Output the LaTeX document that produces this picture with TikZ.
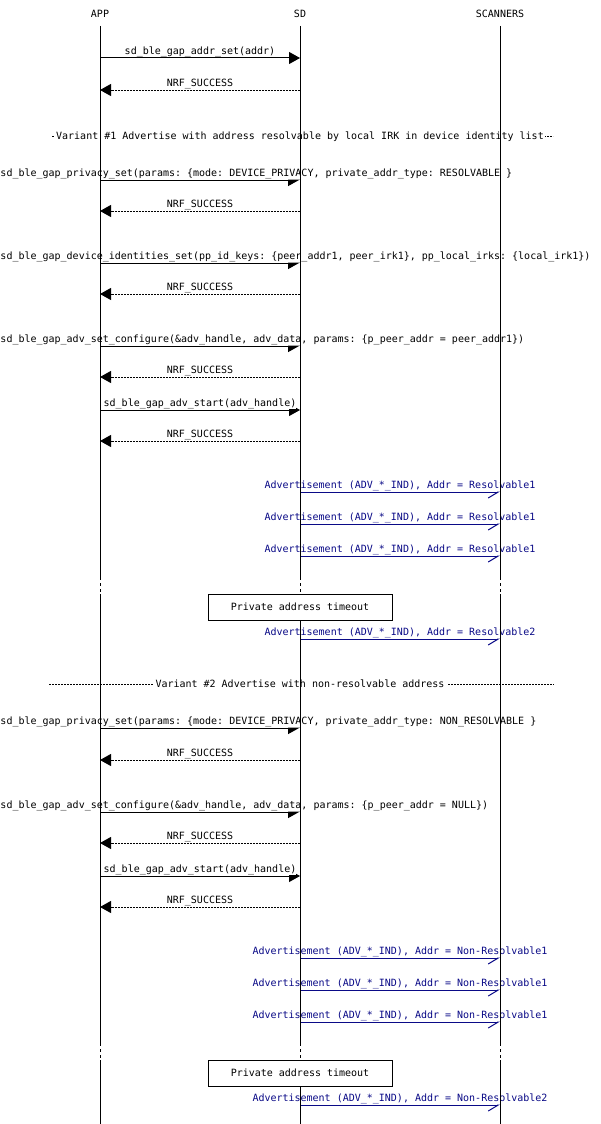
\documentclass[tikz,border=0pt]{standalone}
\usepackage{fontspec}
\setmonofont{DejaVu Sans Mono}
\usetikzlibrary{arrows.meta}
\definecolor{advblue}{RGB}{10,10,135}
\tikzstyle{msg} = [font=\ttfamily\fontsize{10}{12}\selectfont]
\tikzstyle{lbl} = [msg,fill=white,inner xsep=0pt,inner ysep=0pt,text depth=2pt,anchor=south]

\begin{document}
\begin{tikzpicture}[x=1pt,y=-1pt,line width=1pt,
			call/.style={-{Triangle[length=11pt,width=12pt]}},
			wide/.style={-{Triangle[right,length=11pt,width=12pt]}},
			reply/.style={-{Triangle[length=11pt,width=12pt]},dash pattern=on 2pt off 1pt},
			adv/.style={advblue,-{Straight Barb[right,length=10pt,width=12pt]}},
			gap/.style={dash pattern=on 2.5pt off 3.5pt},
			divider/.style={dash pattern=on 2pt off 1pt},
			note/.style={msg,draw,fill=white,minimum width=184pt,minimum height=26pt}]
			\useasboundingbox (0,0) rectangle (600,1124);
			% lifeline heads
			\node[msg,anchor=base] (apph) at (100,17.5) {APP};
			\node[msg,anchor=base] (sdh) at (300,17.5) {SD};
			\node[msg,anchor=base] (scnh) at (500,17.5) {SCANNERS};
			\coordinate (app) at (100,26);
			\coordinate (sd) at (300,26);
			\coordinate (scn) at (500,26);
			% rows
			\coordinate (r1) at (0,58);
			\coordinate (r2) at (0,90);
			\coordinate (r3) at (0,180);
			\coordinate (r4) at (0,211);
			\coordinate (r5) at (0,263);
			\coordinate (r6) at (0,294);
			\coordinate (r7) at (0,346);
			\coordinate (r8) at (0,377);
			\coordinate (r9) at (0,410);
			\coordinate (r10) at (0,441);
			\coordinate (r11) at (0,492);
			\coordinate (r12) at (0,524);
			\coordinate (r13) at (0,556);
			\coordinate (g1) at (0,577);
			\coordinate (g2) at (0,594);
			\coordinate (r14) at (0,639);
			\coordinate (r15) at (0,728);
			\coordinate (r16) at (0,760);
			\coordinate (r17) at (0,812);
			\coordinate (r18) at (0,843);
			\coordinate (r19) at (0,876);
			\coordinate (r20) at (0,907);
			\coordinate (r21) at (0,958);
			\coordinate (r22) at (0,990);
			\coordinate (r23) at (0,1022);
			\coordinate (g3) at (0,1043);
			\coordinate (g4) at (0,1060);
			\coordinate (r24) at (0,1105);
			\coordinate (end) at (0,1124);
			
			% messages
			\draw[call] (app|-r1) -- (sd|-r1) node[lbl,midway,yshift=.6pt] (t1) {sd\_ble\_gap\_addr\_set(addr)};
			\draw[reply] (sd|-r2) -- (app|-r2) node[lbl,midway,yshift=.6pt] (t2) {NRF\_SUCCESS};
			
			\coordinate (d1) at (52,136);
			\coordinate (d2) at (553,136);
			\draw[divider] (d1) -- (d2);
			\node[msg,fill=white,inner xsep=1pt,anchor=base] (t3) at (300,139.5) {Variant \#1 Advertise with address resolvable by local IRK in device identity list};
			
			\draw[wide] (app|-r3) -- (sd|-r3);
			\node[lbl,anchor=south west] (t4) at (0,179.4) {sd\_ble\_gap\_privacy\_set(params: \{mode: DEVICE\_PRIVACY, private\_addr\_type: RESOLVABLE \}};
			\draw[reply] (sd|-r4) -- (app|-r4) node[lbl,midway,yshift=.6pt] (t5) {NRF\_SUCCESS};
			\draw[wide] (app|-r5) -- (sd|-r5);
			\node[lbl,anchor=south west] (t6) at (0,262.4) {sd\_ble\_gap\_device\_identities\_set(pp\_id\_keys: \{peer\_addr1, peer\_irk1\}, pp\_local\_irks: \{local\_irk1\})};
			\draw[reply] (sd|-r6) -- (app|-r6) node[lbl,midway,yshift=.6pt] (t7) {NRF\_SUCCESS};
			\draw[wide] (app|-r7) -- (sd|-r7);
			\node[lbl,anchor=south west] (t8) at (0,345.4) {sd\_ble\_gap\_adv\_set\_configure(\&adv\_handle, adv\_data, params: \{p\_peer\_addr = peer\_addr1\})};
			\draw[reply] (sd|-r8) -- (app|-r8) node[lbl,midway,yshift=.6pt] (t9) {NRF\_SUCCESS};
			\draw[call] (app|-r9) -- (sd|-r9) node[lbl,midway,yshift=.6pt] (t10) {sd\_ble\_gap\_adv\_start(adv\_handle)};
			\draw[reply] (sd|-r10) -- (app|-r10) node[lbl,midway,yshift=.6pt] (t11) {NRF\_SUCCESS};
			
			\draw[adv] (sd|-r11) -- (scn|-r11) node[lbl,midway,yshift=.6pt] (t12) {Advertisement (ADV\_*\_IND), Addr = Resolvable1};
			\draw[adv] (sd|-r12) -- (scn|-r12) node[lbl,midway,yshift=.6pt] (t13) {Advertisement (ADV\_*\_IND), Addr = Resolvable1};
			\draw[adv] (sd|-r13) -- (scn|-r13) node[lbl,midway,yshift=.6pt] (t14) {Advertisement (ADV\_*\_IND), Addr = Resolvable1};
			\draw[adv] (sd|-r14) -- (scn|-r14) node[lbl,midway,yshift=.6pt] (t15) {Advertisement (ADV\_*\_IND), Addr = Resolvable2};
			
			\coordinate (d3) at (49,684);
			\coordinate (d4) at (554,684);
			\draw[divider] (d3) -- (d4);
			\node[msg,fill=white,inner xsep=3pt,anchor=base] (t16) at (300,687.5) {Variant \#2 Advertise with non-resolvable address};
			
			\draw[wide] (app|-r15) -- (sd|-r15);
			\node[lbl,anchor=south west] (t17) at (0,727.4) {sd\_ble\_gap\_privacy\_set(params: \{mode: DEVICE\_PRIVACY, private\_addr\_type: NON\_RESOLVABLE \}};
			\draw[reply] (sd|-r16) -- (app|-r16) node[lbl,midway,yshift=.6pt] (t18) {NRF\_SUCCESS};
			\draw[wide] (app|-r17) -- (sd|-r17);
			\node[lbl,anchor=south west] (t19) at (0,811.4) {sd\_ble\_gap\_adv\_set\_configure(\&adv\_handle, adv\_data, params: \{p\_peer\_addr = NULL\})};
			\draw[reply] (sd|-r18) -- (app|-r18) node[lbl,midway,yshift=.6pt] (t20) {NRF\_SUCCESS};
			\draw[call] (app|-r19) -- (sd|-r19) node[lbl,midway,yshift=.6pt] (t21) {sd\_ble\_gap\_adv\_start(adv\_handle)};
			\draw[reply] (sd|-r20) -- (app|-r20) node[lbl,midway,yshift=.6pt] (t22) {NRF\_SUCCESS};
			
			\draw[adv] (sd|-r21) -- (scn|-r21) node[lbl,midway,yshift=.6pt] (t23) {Advertisement (ADV\_*\_IND), Addr = Non-Resolvable1};
			\draw[adv] (sd|-r22) -- (scn|-r22) node[lbl,midway,yshift=.6pt] (t24) {Advertisement (ADV\_*\_IND), Addr = Non-Resolvable1};
			\draw[adv] (sd|-r23) -- (scn|-r23) node[lbl,midway,yshift=.6pt] (t25) {Advertisement (ADV\_*\_IND), Addr = Non-Resolvable1};
			\draw[adv] (sd|-r24) -- (scn|-r24) node[lbl,midway,yshift=.6pt] (t26) {Advertisement (ADV\_*\_IND), Addr = Non-Resolvable2};
			
			% lifelines
			\draw (app) -- (app|-g1) (app|-g2) -- (app|-g3) (app|-g4) -- (app|-end);
			\draw (sd) -- (sd|-g1) (sd|-g2) -- (sd|-g3) (sd|-g4) -- (sd|-end);
			\draw (scn) -- (scn|-g1) (scn|-g2) -- (scn|-g3) (scn|-g4) -- (scn|-end);
			\draw[gap] (app|-g1) -- (app|-g2) (app|-g3) -- (app|-g4);
			\draw[gap] (sd|-g1) -- (sd|-g2) (sd|-g3) -- (sd|-g4);
			\draw[gap] (scn|-g1) -- (scn|-g2) (scn|-g3) -- (scn|-g4);
			
			% timeouts
			\node[note] (box1) at (300,607) {Private address timeout};
			\node[note] (box2) at (300,1073) {Private address timeout};
		\end{tikzpicture}
\end{document}
